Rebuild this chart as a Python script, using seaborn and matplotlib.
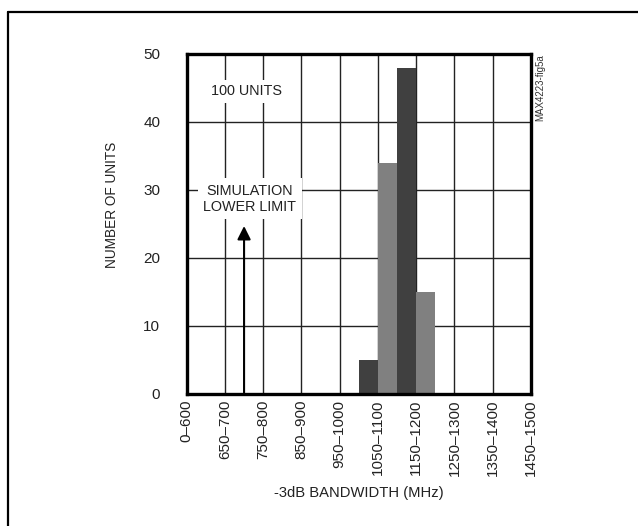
import numpy as np
import pandas as pd
import seaborn as sns
import matplotlib.pyplot as plt
from matplotlib.lines import Line2D

# histogram of -3dB bandwidth, 100 units
bin_lo = [1050, 1100, 1150, 1200]
bin_hi = [1100, 1150, 1200, 1250]
units = [5, 34, 48, 15]
shade = ["dark", "light", "dark", "light"]

tick_pos = [600, 700, 800, 900, 1000, 1100, 1200, 1300, 1400, 1500]
tick_labels = ["0–600", "650–700", "750–800", "850–900", "950–1000",
               "1050–1100", "1150–1200", "1250–1300", "1350–1400", "1450–1500"]
y_ticks = [0, 10, 20, 30, 40, 50]

sim_limit = 750  # simulation lower limit (MHz)

df = pd.DataFrame({
    "center": [(a + b) / 2 for a, b in zip(bin_lo, bin_hi)],
    "units": units,
    "shade": shade,
})

sns.set_theme(style="white")
plt.rcParams["font.family"] = ["Liberation Sans", "DejaVu Sans"]
ink = "#222222"

fig = plt.figure(figsize=(6.38, 5.26), dpi=100)
ax = fig.add_axes([0.2926, 0.2510, 0.5397, 0.6464])

sns.barplot(
    data=df, x="center", y="units", hue="shade",
    palette={"dark": "#404040", "light": "#808080"},
    native_scale=True, dodge=False, width=1, saturation=1,
    linewidth=0, legend=False, ax=ax,
)

ax.set_xlim(600, 1500)
ax.set_ylim(0, 50)
ax.set_xticks(tick_pos)
ax.set_xticklabels(tick_labels, rotation=90, fontsize=11)
ax.set_yticks(y_ticks)
ax.set_yticklabels([str(v) for v in y_ticks], fontsize=11)
ax.tick_params(axis="both", length=0, colors=ink)
ax.tick_params(axis="y", pad=19)
ax.tick_params(axis="x", pad=4)

ax.set_axisbelow(True)
ax.grid(True, color=ink, lw=1)
for s in ax.spines.values():
    s.set_visible(True)
    s.set_color("black")
    s.set_linewidth(2.4)

ax.set_xlabel("-3dB BANDWIDTH (MHz)", fontsize=10.6, labelpad=7, color=ink)
ax.set_ylabel("NUMBER OF UNITS", fontsize=9.8, color=ink)
ax.yaxis.set_label_coords(-0.197, 0.556)

ax.text(757, 44.5, "100 UNITS", ha="center", va="center", fontsize=10.4,
        color=ink, bbox=dict(facecolor="white", edgecolor="none", pad=3))
ax.text(765, 28.7, "SIMULATION\nLOWER LIMIT", ha="center", va="center",
        fontsize=10.4, color=ink, linespacing=1.15,
        bbox=dict(facecolor="white", edgecolor="none", pad=4))
ax.annotate("", xy=(sim_limit, 24.7), xytext=(sim_limit, 0.2),
            arrowprops=dict(arrowstyle="-|>", color="black", lw=1.5,
                            mutation_scale=20, shrinkA=0, shrinkB=0))

ax.text(1.012, 1.0, "MAX4223-fig5a", transform=ax.transAxes, rotation=90,
        ha="left", va="top", fontsize=7, color="#333333")

# outer frame (top and left edges visible)
fig.add_artist(Line2D([8 / 638, 8 / 638], [0, 1 - 12 / 526],
                      transform=fig.transFigure, color="black", lw=1.6))
fig.add_artist(Line2D([8 / 638, 1], [1 - 12 / 526, 1 - 12 / 526],
                      transform=fig.transFigure, color="black", lw=1.6))

fig.savefig("out.png", dpi=100)
